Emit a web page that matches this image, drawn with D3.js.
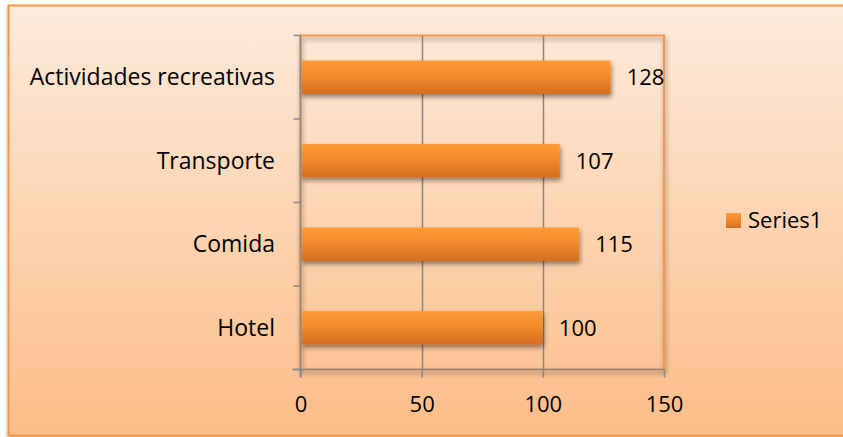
<!DOCTYPE html>
<html>
<head>
<meta charset="utf-8">
<script src="https://cdn.jsdelivr.net/npm/d3@7"></script>
<style>
  body { margin: 0; background: #fff; }
  text { font-family: "Open Sans", Lato, sans-serif; fill: #000; }
</style>
</head>
<body>
<svg width="843" height="437"></svg>
<script>
// datos del gráfico
let categories = ["Hotel", "Comida", "Transporte", "Actividades recreativas"];
let values = [100, 115, 107, 128];
let ticks = [0, 50, 100, 150];
let seriesName = "Series1";

let s = d3.select("svg");
let defs = s.append("defs");
let fs = 22;

// fondo degradado
let bg = defs.append("linearGradient").attr("id", "bg").attr("x1", 0).attr("y1", 0).attr("x2", 0).attr("y2", 1);
bg.append("stop").attr("offset", "0%").attr("stop-color", "#feebdc");
bg.append("stop").attr("offset", "100%").attr("stop-color", "#fcbd88");

let barGrad = defs.append("linearGradient").attr("id", "bar").attr("x1", 0).attr("y1", 0).attr("x2", 0).attr("y2", 1);
barGrad.append("stop").attr("offset", "0%").attr("stop-color", "#ff9a35");
barGrad.append("stop").attr("offset", "45%").attr("stop-color", "#f38a2c");
barGrad.append("stop").attr("offset", "100%").attr("stop-color", "#d36f1f");

let shadow = defs.append("filter").attr("id", "shadow").attr("x", "-5%").attr("y", "-20%").attr("width", "115%").attr("height", "160%");
shadow.append("feGaussianBlur").attr("in", "SourceAlpha").attr("stdDeviation", 2.5);
shadow.append("feOffset").attr("dx", 1).attr("dy", 3).attr("result", "b");
shadow.append("feComponentTransfer").append("feFuncA").attr("type", "linear").attr("slope", 0.45);
let merge = shadow.append("feMerge");
merge.append("feMergeNode");
merge.append("feMergeNode").attr("in", "SourceGraphic");

// marco exterior
s.append("rect")
    .attr("x", 8.5).attr("y", 5.5)
    .attr("width", 840).attr("height", 430)
    .attr("fill", "url(#bg)")
    .attr("stroke", "#f79646")
    .attr("stroke-width", 2)
    .attr("filter", "url(#shadow)");

let pLeft = 300.5, pRight = 664, pTop = 35.5, pBottom = 369.5;

let x = d3.scaleLinear().domain([0, 150]).range([pLeft, pRight]);
let y = d3.scaleBand().domain(categories.slice().reverse()).range([pTop, pBottom]).paddingInner(0.6).paddingOuter(0.3);

// area del gráfico
s.append("rect")
    .attr("x", pLeft).attr("y", pTop)
    .attr("width", pRight - pLeft).attr("height", pBottom - pTop)
    .attr("fill", "none")
    .attr("stroke", "#f79646")
    .attr("stroke-width", 2)
    .attr("filter", "url(#shadow)");

// lineas de cuadricula
s.append("g").selectAll("line").data(ticks.slice(1, 3)).join("line")
    .attr("x1", d => Math.round(x(d)) + 0.5).attr("x2", d => Math.round(x(d)) + 0.5)
    .attr("y1", pTop).attr("y2", pBottom)
    .attr("stroke", "#868686").attr("stroke-width", 1.5);

// barras
s.append("g").selectAll("rect").data(values).join("rect")
    .attr("x", x(0) + 1)
    .attr("y", (d, i) => y(categories[i]))
    .attr("width", d => x(d) - x(0) - 1)
    .attr("height", y.bandwidth())
    .attr("fill", "url(#bar)")
    .attr("filter", "url(#shadow)");

// etiquetas de valores
s.append("g").selectAll("text").data(values).join("text")
    .attr("x", d => x(d) + 16)
    .attr("y", (d, i) => y(categories[i]) + y.bandwidth() / 2 + 8)
    .attr("font-size", fs)
    .text(d => d);

// eje x
let xAxis = s.append("g")
    .attr("transform", "translate(0," + pBottom + ")")
    .call(d3.axisBottom(x).tickValues(ticks).tickSize(8).tickPadding(19));
xAxis.select(".domain").attr("stroke", "#868686").attr("stroke-width", 1.5).attr("d", "M" + (pLeft - 8) + ",0H" + pRight);
xAxis.selectAll(".tick line").attr("stroke", "#868686").attr("stroke-width", 1.5);
xAxis.selectAll(".tick text").attr("font-size", fs).attr("font-family", "'Open Sans', Lato, sans-serif").attr("fill", "#000");

// eje y (marcas entre categorias)
let yTicks = d3.range(categories.length + 1).map(i => pTop + i * (pBottom - pTop) / categories.length);
s.append("line")
    .attr("x1", pLeft).attr("x2", pLeft).attr("y1", pTop).attr("y2", pBottom + 8)
    .attr("stroke", "#868686").attr("stroke-width", 1.5);
s.append("g").selectAll("line").data(yTicks).join("line")
    .attr("x1", pLeft - 7).attr("x2", pLeft)
    .attr("y1", d => d).attr("y2", d => d)
    .attr("stroke", "#868686").attr("stroke-width", 1.5);

s.append("g").selectAll("text").data(categories).join("text")
    .attr("x", 275)
    .attr("y", d => y(d) + y.bandwidth() / 2 + 8)
    .attr("text-anchor", "end")
    .attr("font-size", 23)
    .text(d => d);

// leyenda
s.append("rect")
    .attr("x", 726).attr("y", 213)
    .attr("width", 15).attr("height", 15)
    .attr("fill", "url(#bar)");
s.append("text")
    .attr("x", 748).attr("y", 228)
    .attr("font-size", fs)
    .text(seriesName);
</script>
</body>
</html>
